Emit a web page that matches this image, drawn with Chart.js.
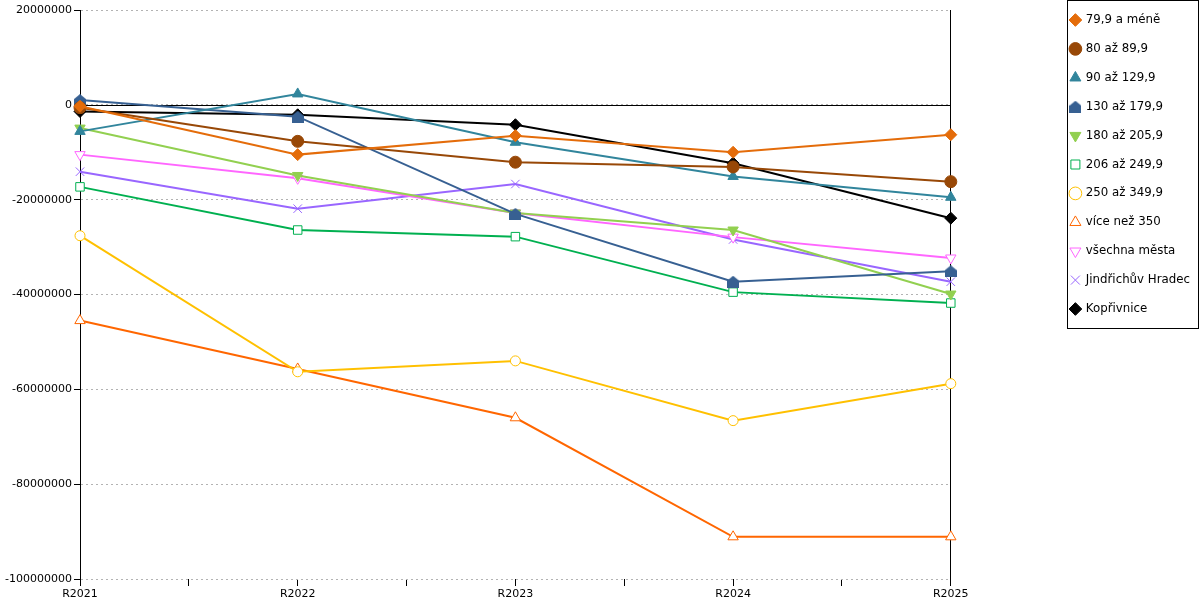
<!DOCTYPE html>
<html>
<head>
<meta charset="utf-8">
<script src="https://cdn.jsdelivr.net/npm/chart.js@4/dist/chart.umd.min.js"></script>
<style>
  body { margin: 0; background: #fff; }
  #wrap { width: 1200px; height: 600px; }
</style>
</head>
<body>
<div id="wrap"><canvas id="saldo_chart"></canvas></div>
<script>
const years = ['R2021', 'R2022', 'R2023', 'R2024', 'R2025'];
const yTicks = [20000000, 0, -20000000, -40000000, -60000000, -80000000, -100000000];

const do79 = [-300000, -10500000, -6500000, -10000000, -6300000];
const do89 = [-600000, -7700000, -12100000, -13100000, -16200000];
const do129 = [-5600000, 2300000, -7900000, -15100000, -19500000];
const do179 = [1000000, -2500000, -23000000, -37300000, -35100000];
const do205 = [-4900000, -14900000, -22800000, -26400000, -39900000];
const do249 = [-17300000, -26400000, -27800000, -39500000, -41800000];
const do349 = [-27600000, -56300000, -54000000, -66600000, -58800000];
const nad350 = [-45500000, -55700000, -66000000, -91100000, -91100000];
const vsechna = [-10500000, -15500000, -22800000, -27900000, -32300000];
const jhradec = [-14100000, -21900000, -16700000, -28400000, -37300000];
const koprivnice = [-1400000, -2100000, -4200000, -12300000, -23900000];

Chart.defaults.font.family = 'DejaVu Sans';
Chart.defaults.font.size = 11;
Chart.defaults.color = '#000';

// house shaped marker (no such pointStyle in chart.js)
const house = document.createElement('canvas');
house.width = 12; house.height = 12;
(() => {
  const c = house.getContext('2d');
  c.fillStyle = '#376092';
  c.beginPath();
  c.moveTo(6, 0); c.lineTo(12, 5); c.lineTo(12, 12); c.lineTo(0, 12); c.lineTo(0, 5);
  c.closePath();
  c.fill();
})();

const pts = arr => arr.map((v, i) => ({ x: i, y: v }));

const mk = (label, data, color, style, opts) => Object.assign({
  label: label,
  data: pts(data),
  borderColor: color,
  backgroundColor: color,
  pointBorderColor: color,
  pointBackgroundColor: color,
  pointStyle: style,
  pointRadius: 5,
  pointBorderWidth: 1,
  borderWidth: 2,
  tension: 0,
  fill: false,
  clip: false
}, opts || {});

const zeroLine = {
  id: 'zeroLine',
  beforeDatasetsDraw(chart) {
    const { ctx, chartArea, scales } = chart;
    const y = Math.round(scales.y.getPixelForValue(0)) + 0.5;
    ctx.save();
    ctx.strokeStyle = '#000';
    ctx.lineWidth = 1;
    ctx.beginPath();
    ctx.moveTo(chartArea.left, y);
    ctx.lineTo(chartArea.right, y);
    ctx.stroke();
    ctx.restore();
  }
};

const legendBox = {
  id: 'legendBox',
  afterDraw(chart) {
    const ctx = chart.ctx;
    ctx.save();
    ctx.strokeStyle = '#000';
    ctx.lineWidth = 1;
    ctx.strokeRect(1067.5, 0.5, 131, 328);
    ctx.restore();
  }
};

const ctx = document.getElementById('saldo_chart');

new Chart(ctx, {
  type: 'line',
  data: {
    datasets: [
      mk('79,9 a méně', do79, '#E46C0A', 'rectRot', { pointRadius: 6 }),
      mk('80 až 89,9', do89, '#984807', 'circle', { pointRadius: 6 }),
      mk('90 až 129,9', do129, '#31859C', 'triangle', { pointRadius: 6 }),
      mk('130 až 179,9', do179, '#376092', house),
      mk('180 až 205,9', do205, '#92D050', 'triangle', { pointRadius: 6, pointRotation: 180 }),
      mk('206 až 249,9', do249, '#00B050', 'rect', { pointBackgroundColor: '#fff', pointRadius: 6 }),
      mk('250 až 349,9', do349, '#FFC000', 'circle', { pointBackgroundColor: '#fff' }),
      mk('více než 350', nad350, '#FF6600', 'triangle', { pointBackgroundColor: '#fff', pointRadius: 6 }),
      mk('všechna města', vsechna, '#FF66FF', 'triangle', { pointBackgroundColor: '#fff', pointRadius: 6, pointRotation: 180 }),
      mk('Jindřichův Hradec', jhradec, '#9966FF', 'crossRot', { pointRadius: 6 }),
      mk('Kopřivnice', koprivnice, '#000000', 'rectRot', { pointRadius: 6 })
    ]
  },
  options: {
    responsive: true,
    maintainAspectRatio: false,
    animation: false,
    layout: { padding: { top: -3, right: 0, bottom: 0, left: 0 } },
    plugins: {
      legend: {
        display: true,
        position: 'right',
        align: 'start',
        labels: {
          usePointStyle: true,
          boxWidth: 9,
          boxHeight: 9,
          padding: 17.1,
          color: '#000',
          font: { family: 'DejaVu Sans', size: 11.8 }
        }
      },
      tooltip: { enabled: false }
    },
    scales: {
      x: {
        type: 'linear',
        min: 0,
        max: years.length - 1,
        border: { display: false },
        grid: {
          drawOnChartArea: false,
          drawTicks: true,
          tickLength: 7,
          color: '#000'
        },
        ticks: {
          stepSize: 0.5,
          autoSkip: false,
          maxRotation: 0,
          padding: 2,
          callback: v => Number.isInteger(v) ? years[v] : ''
        },
        afterFit: s => { s.height = 21; }
      },
      xTop: {
        type: 'linear',
        position: 'top',
        min: 0,
        max: years.length - 1,
        border: { display: false },
        grid: { display: false, drawTicks: false },
        ticks: { display: false },
        afterFit: s => { s.height = 13; }
      },
      y: {
        min: yTicks[yTicks.length - 1],
        max: yTicks[0],
        border: { display: true, color: '#000', width: 1, dash: [2, 3] },
        grid: {
          color: '#b3b3b3',
          tickColor: '#000',
          tickLength: 6,
          drawTicks: true
        },
        ticks: {
          stepSize: 20000000,
          padding: 2,
          callback: v => String(v)
        },
        afterFit: s => { s.width = 80; }
      },
      y2: {
        position: 'right',
        min: yTicks[yTicks.length - 1],
        max: yTicks[0],
        border: { display: true, color: '#000', width: 1 },
        grid: { display: false, drawTicks: false },
        ticks: { display: false },
        afterFit: s => { s.width = 103; }
      }
    }
  },
  plugins: [zeroLine, legendBox]
});
</script>
</body>
</html>
